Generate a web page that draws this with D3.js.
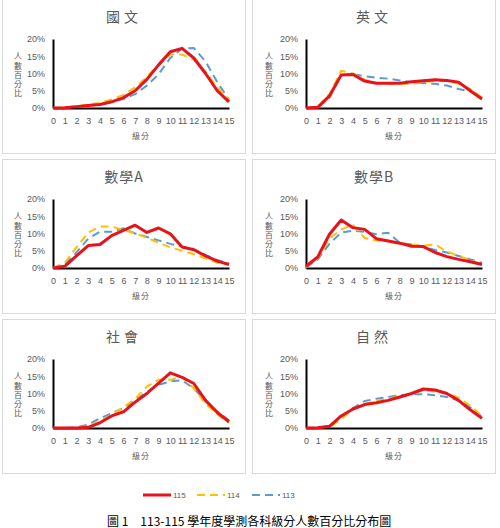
<!DOCTYPE html>
<html><head><meta charset="utf-8">
<script src="https://cdn.jsdelivr.net/npm/d3@7"></script>
<style>
body{margin:0;background:#fff;}
svg{display:block;}
</style></head>
<body>
<svg id="c" width="500" height="528"></svg>
<script>
const levels = d3.range(0, 16);
const subjects = ["國文","英文","數學A","數學B","社會","自然"];
const years = ["115","114","113"];
const yTicks = [0, 5, 10, 15, 20];

const chinese115 = [0,0.1,0.4,0.7,1.0,1.8,3.0,5.0,8.3,12.5,16.3,17.3,14.5,10.0,5.0,1.8];
const chinese114 = [0,0.1,0.5,1.0,1.5,2.5,3.8,6.0,9.0,12.5,15.5,15.5,14.0,10.5,6.0,2.5];
const chinese113 = [0,0.1,0.4,0.7,1.0,1.7,2.6,4.0,6.5,9.8,14.5,17.2,17.4,13.5,7.5,2.4];

const english115 = [0,0.2,3.5,9.6,9.7,7.8,7.2,7.2,7.2,7.6,7.9,8.2,8.0,7.5,5.0,2.6];
const english114 = [0,0.3,4.0,10.8,10.0,8.2,7.3,7.0,7.0,7.0,7.5,7.8,7.8,7.0,5.5,3.0];
const english113 = [0,0.2,3.0,9.5,9.8,9.2,8.8,8.5,8.0,7.5,7.2,7.0,6.5,5.5,4.8,3.2];

const mathA115 = [0,0.5,3.5,6.5,6.8,9.4,10.9,12.4,10.3,11.6,9.9,6.1,5.3,3.5,2.0,1.0];
const mathA114 = [0,1.5,6.0,10.3,12.0,12.0,11.0,10.0,8.8,7.3,6.0,5.0,4.0,2.8,1.5,1.0];
const mathA113 = [0,1.0,4.5,8.5,10.5,10.5,11.5,10.0,9.0,8.0,7.0,6.2,5.5,3.8,2.3,1.3];

const mathB115 = [0.5,3.2,9.8,13.9,11.7,11.2,8.5,7.8,7.2,6.3,6.2,4.5,3.3,2.5,1.8,1.0];
const mathB114 = [0.3,2.8,8.5,11.2,12.5,8.7,8.0,8.0,7.2,6.8,6.5,6.8,4.8,3.5,2.3,1.0];
const mathB113 = [0.2,2.5,7.0,10.3,10.8,10.5,9.8,10.2,7.3,6.8,6.2,5.2,4.5,3.5,2.5,1.5];

const social115 = [0,0,0,0.2,1.5,3.5,4.7,7.5,10.0,13.0,16.0,14.7,12.9,8.0,4.5,1.8];
const social114 = [0,0,0.1,0.5,2.0,3.8,6.0,8.5,12.0,14.0,14.0,14.8,11.5,7.0,4.0,1.5];
const social113 = [0,0,0.2,1.0,2.8,4.3,5.8,8.0,10.5,12.5,13.5,13.8,11.5,7.8,4.8,2.2];

const science115 = [0,0.1,0.5,3.5,5.5,6.8,7.3,8.0,9.0,10.0,11.3,11.0,10.0,8.0,5.3,2.8];
const science114 = [0,0.1,0.3,2.5,5.5,7.0,7.8,8.5,9.2,9.8,11.0,10.5,10.2,8.8,6.5,3.5];
const science113 = [0,0.1,0.5,3.0,5.8,7.8,8.5,9.0,9.5,9.8,9.8,9.5,9.0,8.0,6.0,3.2];

const seriesBySubject = [
  [chinese115, chinese114, chinese113],
  [english115, english114, english113],
  [mathA115, mathA114, mathA113],
  [mathB115, mathB114, mathB113],
  [social115, social114, social113],
  [science115, science114, science113]
];

const colors = {"115":"#E8121A","114":"#FFC000","113":"#5B9BD5"};
const widths = {"115":3,"114":2,"113":2};
const dashes = {"115":null,"114":"8,5","113":"8,5"};

const svg = d3.select("#c");
const gray = "#595959";
const tickFont = "Liberation Sans, Arial, sans-serif";
const cjkFont = "Noto Sans CJK TC, sans-serif";

const panelX = [2, 252];
const panelY = [-1, 159, 319];
const panelW = 244, panelH = 155;
const axisX = [51, 54];

subjects.forEach((name, i) => {
  const col = i % 2, row = Math.floor(i / 2);
  const g = svg.append("g").attr("transform", `translate(${panelX[col]},${panelY[row]})`);
  g.append("rect").attr("x", 0.5).attr("y", 0.5).attr("width", panelW - 1).attr("height", panelH - 1)
    .attr("fill", "#fff").attr("stroke", "#d9d9d9").attr("stroke-width", 1);

  const x0 = axisX[col];
  const x = d3.scaleLinear().domain([0, 15]).range([x0, x0 + 176]);
  const y = d3.scaleLinear().domain([0, 20]).range([109, 40]);

  // title
  g.append("text").attr("x", panelW / 2).attr("y", 18).attr("dy", "0.35em")
    .attr("text-anchor", "middle").attr("font-family", cjkFont).attr("font-size", 14)
    .attr("letter-spacing", name.length === 2 ? 4 : 1)
    .attr("fill", gray).text(name);

  // y axis
  const ya = d3.axisLeft(y).tickValues(yTicks).tickFormat(d => d + "%").tickSize(0).tickPadding(8);
  const yg = g.append("g").attr("transform", `translate(${x0},0)`).call(ya);
  yg.select(".domain").attr("stroke", "#000").attr("stroke-width", 2);
  yg.selectAll("text").attr("font-family", tickFont).attr("font-size", 9).attr("fill", gray);

  // x axis
  const xa = d3.axisBottom(x).tickValues(levels).tickFormat(d3.format("d")).tickSize(0).tickPadding(10);
  const xg = g.append("g").attr("transform", `translate(0,${y(0)})`).call(xa);
  xg.select(".domain").attr("stroke", "#000").attr("stroke-width", 2);
  xg.selectAll("text").attr("font-family", tickFont).attr("font-size", 9).attr("fill", gray);

  // axis titles
  g.append("text").attr("x", x0 + 88).attr("y", 137.5).attr("dy", "0.35em")
    .attr("text-anchor", "middle").attr("font-family", cjkFont).attr("font-size", 8)
    .attr("letter-spacing", 1).attr("fill", gray).text("級分");
  g.append("text")
    .attr("x", col === 0 ? 16 : 17).attr("y", 76.5)
    .attr("writing-mode", "vertical-rl").attr("style", "writing-mode:vertical-rl; text-orientation:upright")
    .attr("text-anchor", "middle").attr("font-family", cjkFont).attr("font-size", 8)
    .attr("letter-spacing", 1.3).attr("fill", gray).text("人數百分比");

  const line = d3.line().x((d, k) => x(levels[k])).y(d => y(d));
  const order = [2, 1, 0];
  order.forEach(j => {
    const yr = years[j];
    g.append("path").datum(seriesBySubject[i][j]).attr("d", line)
      .attr("fill", "none").attr("stroke", colors[yr]).attr("stroke-width", widths[yr])
      .attr("stroke-dasharray", dashes[yr]).attr("stroke-linejoin", "round");
  });
});

// legend
const legendX = [143, 197, 252];
const lg = svg.append("g");
years.forEach((yr, j) => {
  lg.append("line").attr("x1", legendX[j]).attr("x2", legendX[j] + 28).attr("y1", 495).attr("y2", 495)
    .attr("stroke", colors[yr]).attr("stroke-width", widths[yr]).attr("stroke-dasharray", dashes[yr]);
  lg.append("text").attr("x", legendX[j] + 30).attr("y", 495).attr("dy", "0.35em")
    .attr("font-family", tickFont).attr("font-size", 8).attr("fill", gray).text(yr);
});

// caption
svg.append("text").attr("x", 107).attr("y", 522).attr("dy", "0.35em")
  .attr("font-family", cjkFont).attr("font-size", 12).attr("fill", "#000")
  .attr("xml:space", "preserve")
  .text("圖 1　113-115 學年度學測各科級分人數百分比分布圖");
</script>
</body></html>
